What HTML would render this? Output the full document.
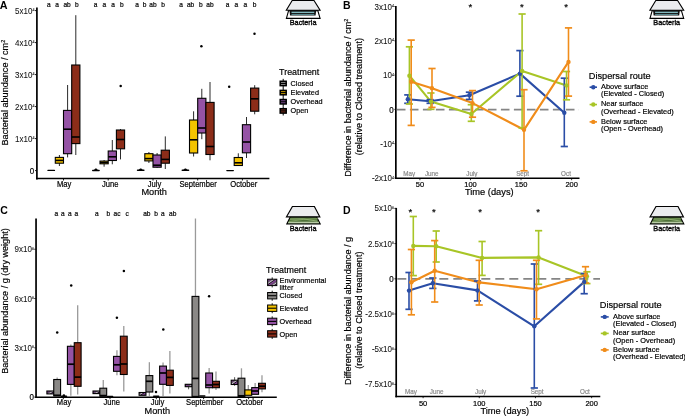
<!DOCTYPE html><html><head><meta charset="utf-8"><style>html,body{margin:0;padding:0;background:#fff;}svg{display:block;will-change:transform;}text{font-family:"Liberation Sans", sans-serif;}</style></head><body>
<svg width="685" height="416" viewBox="0 0 685 416">
<defs><pattern id="hatch" patternUnits="userSpaceOnUse" width="4.4" height="4.4" patternTransform="rotate(-35)"><rect width="4.4" height="4.4" fill="#1d0f22"/><rect width="4.4" height="1.5" fill="#8b4c9c"/><rect y="2.3" width="4.4" height="1.1" fill="#e8e2ea"/></pattern></defs>
<rect width="685" height="416" fill="#fff"/>
<text x="-0.3" y="8.6" font-size="10.8" text-anchor="start" fill="#000" stroke="#000" stroke-width="0" font-weight="bold" >A</text>
<line x1="36.9" y1="7.5" x2="36.9" y2="179.4" stroke="#000" stroke-width="1.7"/>
<line x1="36.05" y1="178.55" x2="269.4" y2="178.55" stroke="#000" stroke-width="1.6"/>
<line x1="35.0" y1="170.60" x2="36.5" y2="170.60" stroke="#000" stroke-width="0.9"/>
<text transform="translate(34.1,173.75) scale(1,1.07)" font-size="8.0" text-anchor="end" fill="#000" stroke="#000" stroke-width="0.18" font-weight="normal">0</text>
<line x1="35.0" y1="138.60" x2="36.5" y2="138.60" stroke="#000" stroke-width="0.9"/>
<text transform="translate(34.5,141.65) scale(1,1.07)" font-size="8.0" text-anchor="end" fill="#111" stroke="#111" stroke-width="0.06">1x10<tspan font-size="3.8" dy="-2.3">4</tspan></text>
<line x1="35.0" y1="106.60" x2="36.5" y2="106.60" stroke="#000" stroke-width="0.9"/>
<text transform="translate(34.5,109.65) scale(1,1.07)" font-size="8.0" text-anchor="end" fill="#111" stroke="#111" stroke-width="0.06">2x10<tspan font-size="3.8" dy="-2.3">4</tspan></text>
<line x1="35.0" y1="74.60" x2="36.5" y2="74.60" stroke="#000" stroke-width="0.9"/>
<text transform="translate(34.5,77.65) scale(1,1.07)" font-size="8.0" text-anchor="end" fill="#111" stroke="#111" stroke-width="0.06">3x10<tspan font-size="3.8" dy="-2.3">4</tspan></text>
<line x1="35.0" y1="42.60" x2="36.5" y2="42.60" stroke="#000" stroke-width="0.9"/>
<text transform="translate(34.5,45.65) scale(1,1.07)" font-size="8.0" text-anchor="end" fill="#111" stroke="#111" stroke-width="0.06">4x10<tspan font-size="3.8" dy="-2.3">4</tspan></text>
<line x1="35.0" y1="10.60" x2="36.5" y2="10.60" stroke="#000" stroke-width="0.9"/>
<text transform="translate(34.5,13.65) scale(1,1.07)" font-size="8.0" text-anchor="end" fill="#111" stroke="#111" stroke-width="0.06">5x10<tspan font-size="3.8" dy="-2.3">4</tspan></text>
<text transform="translate(8.1,92.6) rotate(-90)" font-size="9.1" text-anchor="middle" fill="#000" stroke="#000" stroke-width="0.18">Bacterial abundance / cm<tspan font-size="5.5" dy="-3">2</tspan></text>
<line x1="63.5" y1="178.5" x2="63.5" y2="180.5" stroke="#000" stroke-width="0.9"/>
<text transform="translate(64.1,186.7) scale(1,1.07)" font-size="7.6" text-anchor="middle" fill="#000" stroke="#000" stroke-width="0.18" font-weight="normal">May</text>
<line x1="108.2" y1="178.5" x2="108.2" y2="180.5" stroke="#000" stroke-width="0.9"/>
<text transform="translate(110.2,186.7) scale(1,1.07)" font-size="7.6" text-anchor="middle" fill="#000" stroke="#000" stroke-width="0.18" font-weight="normal">June</text>
<line x1="153.0" y1="178.5" x2="153.0" y2="180.5" stroke="#000" stroke-width="0.9"/>
<text transform="translate(154.5,186.7) scale(1,1.07)" font-size="7.6" text-anchor="middle" fill="#000" stroke="#000" stroke-width="0.18" font-weight="normal">July</text>
<line x1="197.7" y1="178.5" x2="197.7" y2="180.5" stroke="#000" stroke-width="0.9"/>
<text transform="translate(198.1,186.7) scale(1,1.07)" font-size="7.6" text-anchor="middle" fill="#000" stroke="#000" stroke-width="0.18" font-weight="normal">September</text>
<line x1="242.4" y1="178.5" x2="242.4" y2="180.5" stroke="#000" stroke-width="0.9"/>
<text transform="translate(243.75,186.7) scale(1,1.07)" font-size="7.6" text-anchor="middle" fill="#000" stroke="#000" stroke-width="0.18" font-weight="normal">October</text>
<text x="154.15" y="195.1" font-size="9.2" text-anchor="middle" fill="#000" stroke="#000" stroke-width="0.18" font-weight="normal" >Month</text>
<rect x="47.30" y="169.70" width="7.80" height="1.4" rx="0.7" fill="#000"/>
<line x1="59.40" y1="155.0" x2="59.40" y2="157.4" stroke="#2b2b2b" stroke-width="1.0"/>
<line x1="59.40" y1="163.2" x2="59.40" y2="166.0" stroke="#2b2b2b" stroke-width="1.0"/>
<rect x="55.30" y="157.4" width="8.20" height="5.80" fill="#F4C300" stroke="#000" stroke-width="1.1"/>
<line x1="55.30" y1="160.4" x2="63.50" y2="160.4" stroke="#000" stroke-width="1.6"/>
<line x1="67.60" y1="85.0" x2="67.60" y2="110.4" stroke="#2b2b2b" stroke-width="1.0"/>
<line x1="67.60" y1="153.7" x2="67.60" y2="157.4" stroke="#2b2b2b" stroke-width="1.0"/>
<rect x="63.50" y="110.4" width="8.20" height="43.30" fill="#9553A5" stroke="#000" stroke-width="1.1"/>
<line x1="63.50" y1="129.2" x2="71.70" y2="129.2" stroke="#000" stroke-width="1.6"/>
<line x1="75.80" y1="15.2" x2="75.80" y2="65.0" stroke="#2b2b2b" stroke-width="1.0"/>
<line x1="75.80" y1="143.6" x2="75.80" y2="155.0" stroke="#2b2b2b" stroke-width="1.0"/>
<rect x="71.70" y="65.0" width="8.20" height="78.60" fill="#8C2D19" stroke="#000" stroke-width="1.1"/>
<line x1="71.70" y1="137.0" x2="79.90" y2="137.0" stroke="#000" stroke-width="1.6"/>
<rect x="92.00" y="169.80" width="7.80" height="1.4" rx="0.7" fill="#000"/>
<path d="M93.50 170.5 L95.30 168.6 L96.50 168.6 L98.30 170.5 Z" fill="#000"/>
<line x1="104.10" y1="160.0" x2="104.10" y2="161.1" stroke="#2b2b2b" stroke-width="1.0"/>
<line x1="104.10" y1="163.8" x2="104.10" y2="166.7" stroke="#2b2b2b" stroke-width="1.0"/>
<rect x="100.00" y="161.1" width="8.20" height="2.70" fill="#F4C300" stroke="#000" stroke-width="1.1"/>
<line x1="100.00" y1="162.5" x2="108.20" y2="162.5" stroke="#000" stroke-width="1.6"/>
<line x1="112.30" y1="140.0" x2="112.30" y2="151.0" stroke="#2b2b2b" stroke-width="1.0"/>
<line x1="112.30" y1="160.5" x2="112.30" y2="164.3" stroke="#2b2b2b" stroke-width="1.0"/>
<rect x="108.20" y="151.0" width="8.20" height="9.50" fill="#9553A5" stroke="#000" stroke-width="1.1"/>
<line x1="108.20" y1="156.8" x2="116.40" y2="156.8" stroke="#000" stroke-width="1.6"/>
<line x1="120.50" y1="129.0" x2="120.50" y2="130.0" stroke="#2b2b2b" stroke-width="1.0"/>
<line x1="120.50" y1="148.8" x2="120.50" y2="159.4" stroke="#2b2b2b" stroke-width="1.0"/>
<rect x="116.40" y="130.0" width="8.20" height="18.80" fill="#8C2D19" stroke="#000" stroke-width="1.1"/>
<line x1="116.40" y1="139.5" x2="124.60" y2="139.5" stroke="#000" stroke-width="1.6"/>
<circle cx="120.7" cy="86.0" r="1.25" fill="#000"/>
<rect x="136.80" y="169.60" width="7.80" height="1.4" rx="0.7" fill="#000"/>
<path d="M138.30 170.3 L140.10 168.4 L141.30 168.4 L143.10 170.3 Z" fill="#000"/>
<line x1="148.90" y1="152.0" x2="148.90" y2="153.7" stroke="#2b2b2b" stroke-width="1.0"/>
<line x1="148.90" y1="160.9" x2="148.90" y2="163.0" stroke="#2b2b2b" stroke-width="1.0"/>
<rect x="144.80" y="153.7" width="8.20" height="7.20" fill="#F4C300" stroke="#000" stroke-width="1.1"/>
<line x1="144.80" y1="158.6" x2="153.00" y2="158.6" stroke="#000" stroke-width="1.6"/>
<line x1="157.10" y1="153.0" x2="157.10" y2="155.0" stroke="#2b2b2b" stroke-width="1.0"/>
<line x1="157.10" y1="167.2" x2="157.10" y2="168.0" stroke="#2b2b2b" stroke-width="1.0"/>
<rect x="153.00" y="155.0" width="8.20" height="12.20" fill="#9553A5" stroke="#000" stroke-width="1.1"/>
<line x1="153.00" y1="165.2" x2="161.20" y2="165.2" stroke="#000" stroke-width="1.6"/>
<line x1="165.30" y1="136.4" x2="165.30" y2="150.2" stroke="#2b2b2b" stroke-width="1.0"/>
<line x1="165.30" y1="163.2" x2="165.30" y2="169.0" stroke="#2b2b2b" stroke-width="1.0"/>
<rect x="161.20" y="150.2" width="8.20" height="13.00" fill="#8C2D19" stroke="#000" stroke-width="1.1"/>
<line x1="161.20" y1="159.4" x2="169.40" y2="159.4" stroke="#000" stroke-width="1.6"/>
<rect x="181.50" y="169.60" width="7.80" height="1.4" rx="0.7" fill="#000"/>
<path d="M183.00 170.3 L184.80 168.4 L186.00 168.4 L187.80 170.3 Z" fill="#000"/>
<line x1="193.60" y1="111.3" x2="193.60" y2="120.0" stroke="#2b2b2b" stroke-width="1.0"/>
<line x1="193.60" y1="153.0" x2="193.60" y2="156.5" stroke="#2b2b2b" stroke-width="1.0"/>
<rect x="189.50" y="120.0" width="8.20" height="33.00" fill="#F4C300" stroke="#000" stroke-width="1.1"/>
<line x1="189.50" y1="139.8" x2="197.70" y2="139.8" stroke="#000" stroke-width="1.6"/>
<line x1="201.80" y1="88.8" x2="201.80" y2="98.3" stroke="#2b2b2b" stroke-width="1.0"/>
<line x1="201.80" y1="133.0" x2="201.80" y2="139.2" stroke="#2b2b2b" stroke-width="1.0"/>
<rect x="197.70" y="98.3" width="8.20" height="34.70" fill="#9553A5" stroke="#000" stroke-width="1.1"/>
<line x1="197.70" y1="128.0" x2="205.90" y2="128.0" stroke="#000" stroke-width="1.6"/>
<line x1="210.00" y1="82.0" x2="210.00" y2="102.4" stroke="#2b2b2b" stroke-width="1.0"/>
<line x1="210.00" y1="154.5" x2="210.00" y2="160.3" stroke="#2b2b2b" stroke-width="1.0"/>
<rect x="205.90" y="102.4" width="8.20" height="52.10" fill="#8C2D19" stroke="#000" stroke-width="1.1"/>
<line x1="205.90" y1="146.5" x2="214.10" y2="146.5" stroke="#000" stroke-width="1.6"/>
<circle cx="201.4" cy="46.3" r="1.25" fill="#000"/>
<rect x="226.20" y="169.90" width="7.80" height="1.4" rx="0.7" fill="#000"/>
<line x1="238.30" y1="153.3" x2="238.30" y2="157.5" stroke="#2b2b2b" stroke-width="1.0"/>
<line x1="238.30" y1="165.5" x2="238.30" y2="166.0" stroke="#2b2b2b" stroke-width="1.0"/>
<rect x="234.20" y="157.5" width="8.20" height="8.00" fill="#F4C300" stroke="#000" stroke-width="1.1"/>
<line x1="234.20" y1="162.8" x2="242.40" y2="162.8" stroke="#000" stroke-width="1.6"/>
<line x1="246.50" y1="117.0" x2="246.50" y2="124.7" stroke="#2b2b2b" stroke-width="1.0"/>
<line x1="246.50" y1="152.8" x2="246.50" y2="158.0" stroke="#2b2b2b" stroke-width="1.0"/>
<rect x="242.40" y="124.7" width="8.20" height="28.10" fill="#9553A5" stroke="#000" stroke-width="1.1"/>
<line x1="242.40" y1="142.0" x2="250.60" y2="142.0" stroke="#000" stroke-width="1.6"/>
<line x1="254.70" y1="85.2" x2="254.70" y2="88.1" stroke="#2b2b2b" stroke-width="1.0"/>
<line x1="254.70" y1="111.2" x2="254.70" y2="114.3" stroke="#2b2b2b" stroke-width="1.0"/>
<rect x="250.60" y="88.1" width="8.20" height="23.10" fill="#8C2D19" stroke="#000" stroke-width="1.1"/>
<line x1="250.60" y1="98.8" x2="258.80" y2="98.8" stroke="#000" stroke-width="1.6"/>
<circle cx="229.2" cy="86.7" r="1.25" fill="#000"/>
<circle cx="254.5" cy="33.7" r="1.25" fill="#000"/>
<text transform="translate(48.8,6.9) scale(1,1.07)" font-size="6.6" text-anchor="middle" fill="#000" stroke="#000" stroke-width="0.18" font-weight="normal">a</text>
<text transform="translate(57.0,6.9) scale(1,1.07)" font-size="6.6" text-anchor="middle" fill="#000" stroke="#000" stroke-width="0.18" font-weight="normal">a</text>
<text transform="translate(67.1,6.9) scale(1,1.07)" font-size="6.6" text-anchor="middle" fill="#000" stroke="#000" stroke-width="0.18" font-weight="normal">ab</text>
<text transform="translate(76.8,6.9) scale(1,1.07)" font-size="6.6" text-anchor="middle" fill="#000" stroke="#000" stroke-width="0.18" font-weight="normal">b</text>
<text transform="translate(95.7,6.9) scale(1,1.07)" font-size="6.6" text-anchor="middle" fill="#000" stroke="#000" stroke-width="0.18" font-weight="normal">a</text>
<text transform="translate(104.3,6.9) scale(1,1.07)" font-size="6.6" text-anchor="middle" fill="#000" stroke="#000" stroke-width="0.18" font-weight="normal">a</text>
<text transform="translate(113.2,6.9) scale(1,1.07)" font-size="6.6" text-anchor="middle" fill="#000" stroke="#000" stroke-width="0.18" font-weight="normal">a</text>
<text transform="translate(121.8,6.9) scale(1,1.07)" font-size="6.6" text-anchor="middle" fill="#000" stroke="#000" stroke-width="0.18" font-weight="normal">b</text>
<text transform="translate(137.2,6.9) scale(1,1.07)" font-size="6.6" text-anchor="middle" fill="#000" stroke="#000" stroke-width="0.18" font-weight="normal">a</text>
<text transform="translate(144.6,6.9) scale(1,1.07)" font-size="6.6" text-anchor="middle" fill="#000" stroke="#000" stroke-width="0.18" font-weight="normal">b</text>
<text transform="translate(153.0,6.9) scale(1,1.07)" font-size="6.6" text-anchor="middle" fill="#000" stroke="#000" stroke-width="0.18" font-weight="normal">ab</text>
<text transform="translate(163.1,6.9) scale(1,1.07)" font-size="6.6" text-anchor="middle" fill="#000" stroke="#000" stroke-width="0.18" font-weight="normal">b</text>
<text transform="translate(181.2,6.9) scale(1,1.07)" font-size="6.6" text-anchor="middle" fill="#000" stroke="#000" stroke-width="0.18" font-weight="normal">a</text>
<text transform="translate(190.6,6.9) scale(1,1.07)" font-size="6.6" text-anchor="middle" fill="#000" stroke="#000" stroke-width="0.18" font-weight="normal">ab</text>
<text transform="translate(200.8,6.9) scale(1,1.07)" font-size="6.6" text-anchor="middle" fill="#000" stroke="#000" stroke-width="0.18" font-weight="normal">b</text>
<text transform="translate(210.0,6.9) scale(1,1.07)" font-size="6.6" text-anchor="middle" fill="#000" stroke="#000" stroke-width="0.18" font-weight="normal">ab</text>
<text transform="translate(227.6,6.9) scale(1,1.07)" font-size="6.6" text-anchor="middle" fill="#000" stroke="#000" stroke-width="0.18" font-weight="normal">a</text>
<text transform="translate(236.3,6.9) scale(1,1.07)" font-size="6.6" text-anchor="middle" fill="#000" stroke="#000" stroke-width="0.18" font-weight="normal">a</text>
<text transform="translate(245.4,6.9) scale(1,1.07)" font-size="6.6" text-anchor="middle" fill="#000" stroke="#000" stroke-width="0.18" font-weight="normal">a</text>
<text transform="translate(254.6,6.9) scale(1,1.07)" font-size="6.6" text-anchor="middle" fill="#000" stroke="#000" stroke-width="0.18" font-weight="normal">b</text>
<text x="0" y="0" font-size="8.9" text-anchor="start" fill="#000" stroke="#000" stroke-width="0.18" font-weight="normal" transform="translate(279.1,75.4) scale(1,1.1)">Treatment</text>
<line x1="283.2" y1="78.85" x2="283.2" y2="88.05" stroke="#000" stroke-width="1.0"/>
<rect x="280.2" y="81.25" width="6.0" height="4.4" fill="#8a8a8a" stroke="#000" stroke-width="1.5"/>
<line x1="280.2" y1="83.45" x2="286.2" y2="83.45" stroke="#000" stroke-width="1.1"/>
<text transform="translate(290.6,85.95) scale(1,1.07)" font-size="7.3" text-anchor="start" fill="#000" stroke="#000" stroke-width="0.18" font-weight="normal">Closed</text>
<line x1="283.2" y1="88.00" x2="283.2" y2="97.20" stroke="#000" stroke-width="1.0"/>
<rect x="280.2" y="90.40" width="6.0" height="4.4" fill="#c9a000" stroke="#000" stroke-width="1.5"/>
<line x1="280.2" y1="92.60" x2="286.2" y2="92.60" stroke="#000" stroke-width="1.1"/>
<text transform="translate(290.6,95.10000000000001) scale(1,1.07)" font-size="7.3" text-anchor="start" fill="#000" stroke="#000" stroke-width="0.18" font-weight="normal">Elevated</text>
<line x1="283.2" y1="97.15" x2="283.2" y2="106.35" stroke="#000" stroke-width="1.0"/>
<rect x="280.2" y="99.55" width="6.0" height="4.4" fill="#7d4a90" stroke="#000" stroke-width="1.5"/>
<line x1="280.2" y1="101.75" x2="286.2" y2="101.75" stroke="#000" stroke-width="1.1"/>
<text transform="translate(290.6,104.25) scale(1,1.07)" font-size="7.3" text-anchor="start" fill="#000" stroke="#000" stroke-width="0.18" font-weight="normal">Overhead</text>
<line x1="283.2" y1="106.30" x2="283.2" y2="115.50" stroke="#000" stroke-width="1.0"/>
<rect x="280.2" y="108.70" width="6.0" height="4.4" fill="#7c2e1c" stroke="#000" stroke-width="1.5"/>
<line x1="280.2" y1="110.90" x2="286.2" y2="110.90" stroke="#000" stroke-width="1.1"/>
<text transform="translate(290.6,113.4) scale(1,1.07)" font-size="7.3" text-anchor="start" fill="#000" stroke="#000" stroke-width="0.18" font-weight="normal">Open</text>
<polygon points="288.60,10.60 317.80,10.60 320.10,18.40 286.40,18.40" fill="#fff" stroke="#000" stroke-width="1.1"/>
<polygon points="289.50,10.60 316.20,10.60 315.60,15.60 290.00,15.60" fill="#111"/>
<line x1="291.5" y1="12.3" x2="314.3" y2="12.3" stroke="#92cdd4" stroke-width="1.2"/>
<line x1="291.5" y1="14.4" x2="314.3" y2="14.4" stroke="#6aa5ad" stroke-width="0.9"/>
<polygon points="292.20,0.50 314.00,0.50 320.10,10.30 286.30,10.30" fill="#ebecee" stroke="#000" stroke-width="1.1"/>
<text transform="translate(303.1,24.7) scale(1,1.07)" font-size="7.3" text-anchor="middle" fill="#000" stroke="#000" stroke-width="0.32" font-weight="normal">Bacteria</text>
<text x="342.9" y="8.6" font-size="10.5" text-anchor="start" fill="#000" stroke="#000" stroke-width="0" font-weight="bold" >B</text>
<line x1="395.85" y1="5.9" x2="395.85" y2="178.9" stroke="#000" stroke-width="1.7"/>
<line x1="395.0" y1="178.25" x2="579.5" y2="178.25" stroke="#000" stroke-width="1.6"/>
<line x1="394.4" y1="6.50" x2="396" y2="6.50" stroke="#000" stroke-width="0.8"/>
<text transform="translate(394.0,9.55) scale(1,1.07)" font-size="8.0" text-anchor="end" fill="#111" stroke="#111" stroke-width="0.06">3x10<tspan font-size="3.8" dy="-2.3">4</tspan></text>
<line x1="394.4" y1="40.80" x2="396" y2="40.80" stroke="#000" stroke-width="0.8"/>
<text transform="translate(394.0,43.85) scale(1,1.07)" font-size="8.0" text-anchor="end" fill="#111" stroke="#111" stroke-width="0.06">2x10<tspan font-size="3.8" dy="-2.3">4</tspan></text>
<line x1="394.4" y1="75.10" x2="396" y2="75.10" stroke="#000" stroke-width="0.8"/>
<text transform="translate(394.0,78.15) scale(1,1.07)" font-size="8.0" text-anchor="end" fill="#111" stroke="#111" stroke-width="0.06">10<tspan font-size="3.8" dy="-2.3">4</tspan></text>
<line x1="394.4" y1="109.40" x2="396" y2="109.40" stroke="#000" stroke-width="0.8"/>
<text transform="translate(393.6,112.55000000000001) scale(1,1.07)" font-size="8.0" text-anchor="end" fill="#000" stroke="#000" stroke-width="0.18" font-weight="normal">0</text>
<line x1="394.4" y1="143.70" x2="396" y2="143.70" stroke="#000" stroke-width="0.8"/>
<text transform="translate(394.0,146.75) scale(1,1.07)" font-size="8.0" text-anchor="end" fill="#111" stroke="#111" stroke-width="0.06">-10<tspan font-size="3.8" dy="-2.3">4</tspan></text>
<line x1="394.4" y1="178.00" x2="396" y2="178.00" stroke="#000" stroke-width="0.8"/>
<text transform="translate(394.0,181.05) scale(1,1.07)" font-size="8.0" text-anchor="end" fill="#111" stroke="#111" stroke-width="0.06">-2x10<tspan font-size="3.8" dy="-2.3">4</tspan></text>
<text transform="translate(351.0,97.7) rotate(-90)" font-size="9.1" text-anchor="middle" fill="#000" stroke="#000" stroke-width="0.18">Difference in bacterial abundance / cm<tspan font-size="5.5" dy="-3">2</tspan></text>
<text transform="translate(361.7,96.7) rotate(-90)" font-size="9.1" text-anchor="middle" fill="#000" stroke="#000" stroke-width="0.18">(relative to Closed treatment)</text>
<line x1="396.9" y1="109.6" x2="579" y2="109.6" stroke="#858585" stroke-width="1.7" stroke-dasharray="8.6 4.4"/>
<line x1="419.90" y1="178.3" x2="419.90" y2="180.2" stroke="#000" stroke-width="0.8"/>
<text transform="translate(419.9,186.7) scale(1,1.07)" font-size="7.5" text-anchor="middle" fill="#000" stroke="#000" stroke-width="0.18" font-weight="normal">50</text>
<line x1="470.47" y1="178.3" x2="470.47" y2="180.2" stroke="#000" stroke-width="0.8"/>
<text transform="translate(470.47499999999997,186.7) scale(1,1.07)" font-size="7.5" text-anchor="middle" fill="#000" stroke="#000" stroke-width="0.18" font-weight="normal">100</text>
<line x1="521.05" y1="178.3" x2="521.05" y2="180.2" stroke="#000" stroke-width="0.8"/>
<text transform="translate(521.05,186.7) scale(1,1.07)" font-size="7.5" text-anchor="middle" fill="#000" stroke="#000" stroke-width="0.18" font-weight="normal">150</text>
<line x1="571.62" y1="178.3" x2="571.62" y2="180.2" stroke="#000" stroke-width="0.8"/>
<text transform="translate(571.625,186.7) scale(1,1.07)" font-size="7.5" text-anchor="middle" fill="#000" stroke="#000" stroke-width="0.18" font-weight="normal">200</text>
<text transform="translate(409.3,176.2) scale(1,1.07)" font-size="6.3" text-anchor="middle" fill="#8a8a8a" stroke="#8a8a8a" stroke-width="0.18" font-weight="normal">May</text>
<text transform="translate(431.7,176.2) scale(1,1.07)" font-size="6.3" text-anchor="middle" fill="#8a8a8a" stroke="#8a8a8a" stroke-width="0.18" font-weight="normal">June</text>
<text transform="translate(471.9,176.2) scale(1,1.07)" font-size="6.3" text-anchor="middle" fill="#8a8a8a" stroke="#8a8a8a" stroke-width="0.18" font-weight="normal">July</text>
<text transform="translate(522.6,176.2) scale(1,1.07)" font-size="6.3" text-anchor="middle" fill="#8a8a8a" stroke="#8a8a8a" stroke-width="0.18" font-weight="normal">Sept</text>
<text transform="translate(566.0,176.2) scale(1,1.07)" font-size="6.3" text-anchor="middle" fill="#8a8a8a" stroke="#8a8a8a" stroke-width="0.18" font-weight="normal">Oct</text>
<text x="489.3" y="195.3" font-size="9.3" text-anchor="middle" fill="#000" stroke="#000" stroke-width="0.18" font-weight="normal" >Time (days)</text>
<text x="470.3" y="9.8" font-size="9.6" text-anchor="middle" fill="#000" stroke="#000" stroke-width="0.18" font-weight="normal" >*</text>
<text x="521.9" y="9.8" font-size="9.6" text-anchor="middle" fill="#000" stroke="#000" stroke-width="0.18" font-weight="normal" >*</text>
<text x="566.0" y="9.8" font-size="9.6" text-anchor="middle" fill="#000" stroke="#000" stroke-width="0.18" font-weight="normal" >*</text>
<path d="M407.8,99.3 L430.1,101.2 L469.4,95.3 L519.9,73.6 L564.3,112.7" fill="none" stroke="#2A4DA6" stroke-width="2.1" stroke-linejoin="round"/>
<path d="M409.4,75.7 L430.9,101.6 L471.3,114.0 L522.1,71.0 L566.5,85.4" fill="none" stroke="#A8C526" stroke-width="2.1" stroke-linejoin="round"/>
<path d="M411.2,81.7 L432.0,88.2 L472.5,103.1 L524.0,129.8 L568.5,61.9" fill="none" stroke="#F08C1A" stroke-width="2.1" stroke-linejoin="round"/>
<line x1="407.8" y1="94.9" x2="407.8" y2="103.3" stroke="#2A4DA6" stroke-width="1.6"/>
<line x1="404.2" y1="94.9" x2="411.40000000000003" y2="94.9" stroke="#2A4DA6" stroke-width="1.7"/>
<line x1="404.2" y1="103.3" x2="411.40000000000003" y2="103.3" stroke="#2A4DA6" stroke-width="1.7"/>
<line x1="430.1" y1="99.7" x2="430.1" y2="103.3" stroke="#2A4DA6" stroke-width="1.6"/>
<line x1="426.5" y1="99.7" x2="433.70000000000005" y2="99.7" stroke="#2A4DA6" stroke-width="1.7"/>
<line x1="426.5" y1="103.3" x2="433.70000000000005" y2="103.3" stroke="#2A4DA6" stroke-width="1.7"/>
<line x1="469.4" y1="92.2" x2="469.4" y2="99.4" stroke="#2A4DA6" stroke-width="1.6"/>
<line x1="465.79999999999995" y1="92.2" x2="473.0" y2="92.2" stroke="#2A4DA6" stroke-width="1.7"/>
<line x1="465.79999999999995" y1="99.4" x2="473.0" y2="99.4" stroke="#2A4DA6" stroke-width="1.7"/>
<line x1="519.9" y1="50.6" x2="519.9" y2="96.2" stroke="#2A4DA6" stroke-width="1.6"/>
<line x1="516.3" y1="50.6" x2="523.5" y2="50.6" stroke="#2A4DA6" stroke-width="1.7"/>
<line x1="516.3" y1="96.2" x2="523.5" y2="96.2" stroke="#2A4DA6" stroke-width="1.7"/>
<line x1="564.3" y1="78.2" x2="564.3" y2="146.5" stroke="#2A4DA6" stroke-width="1.6"/>
<line x1="560.6999999999999" y1="78.2" x2="567.9" y2="78.2" stroke="#2A4DA6" stroke-width="1.7"/>
<line x1="560.6999999999999" y1="146.5" x2="567.9" y2="146.5" stroke="#2A4DA6" stroke-width="1.7"/>
<line x1="409.4" y1="46.8" x2="409.4" y2="104.0" stroke="#A8C526" stroke-width="1.6"/>
<line x1="405.79999999999995" y1="46.8" x2="413.0" y2="46.8" stroke="#A8C526" stroke-width="1.7"/>
<line x1="405.79999999999995" y1="104.0" x2="413.0" y2="104.0" stroke="#A8C526" stroke-width="1.7"/>
<line x1="430.9" y1="93.0" x2="430.9" y2="109.3" stroke="#A8C526" stroke-width="1.6"/>
<line x1="427.29999999999995" y1="93.0" x2="434.5" y2="93.0" stroke="#A8C526" stroke-width="1.7"/>
<line x1="427.29999999999995" y1="109.3" x2="434.5" y2="109.3" stroke="#A8C526" stroke-width="1.7"/>
<line x1="471.3" y1="104.7" x2="471.3" y2="121.3" stroke="#A8C526" stroke-width="1.6"/>
<line x1="467.7" y1="104.7" x2="474.90000000000003" y2="104.7" stroke="#A8C526" stroke-width="1.7"/>
<line x1="467.7" y1="121.3" x2="474.90000000000003" y2="121.3" stroke="#A8C526" stroke-width="1.7"/>
<line x1="522.1" y1="14.0" x2="522.1" y2="128.0" stroke="#A8C526" stroke-width="1.6"/>
<line x1="518.5" y1="14.0" x2="525.7" y2="14.0" stroke="#A8C526" stroke-width="1.7"/>
<line x1="518.5" y1="128.0" x2="525.7" y2="128.0" stroke="#A8C526" stroke-width="1.7"/>
<line x1="566.5" y1="71.5" x2="566.5" y2="99.8" stroke="#A8C526" stroke-width="1.6"/>
<line x1="562.9" y1="71.5" x2="570.1" y2="71.5" stroke="#A8C526" stroke-width="1.7"/>
<line x1="562.9" y1="99.8" x2="570.1" y2="99.8" stroke="#A8C526" stroke-width="1.7"/>
<line x1="411.2" y1="40.1" x2="411.2" y2="125.4" stroke="#F08C1A" stroke-width="1.6"/>
<line x1="407.59999999999997" y1="40.1" x2="414.8" y2="40.1" stroke="#F08C1A" stroke-width="1.7"/>
<line x1="407.59999999999997" y1="125.4" x2="414.8" y2="125.4" stroke="#F08C1A" stroke-width="1.7"/>
<line x1="432.0" y1="68.5" x2="432.0" y2="107.4" stroke="#F08C1A" stroke-width="1.6"/>
<line x1="428.4" y1="68.5" x2="435.6" y2="68.5" stroke="#F08C1A" stroke-width="1.7"/>
<line x1="428.4" y1="107.4" x2="435.6" y2="107.4" stroke="#F08C1A" stroke-width="1.7"/>
<line x1="472.5" y1="90.6" x2="472.5" y2="117.2" stroke="#F08C1A" stroke-width="1.6"/>
<line x1="468.9" y1="90.6" x2="476.1" y2="90.6" stroke="#F08C1A" stroke-width="1.7"/>
<line x1="468.9" y1="117.2" x2="476.1" y2="117.2" stroke="#F08C1A" stroke-width="1.7"/>
<line x1="524.0" y1="89.7" x2="524.0" y2="170.8" stroke="#F08C1A" stroke-width="1.6"/>
<line x1="520.4" y1="89.7" x2="527.6" y2="89.7" stroke="#F08C1A" stroke-width="1.7"/>
<line x1="520.4" y1="170.8" x2="527.6" y2="170.8" stroke="#F08C1A" stroke-width="1.7"/>
<line x1="568.5" y1="27.9" x2="568.5" y2="96.1" stroke="#F08C1A" stroke-width="1.6"/>
<line x1="564.9" y1="27.9" x2="572.1" y2="27.9" stroke="#F08C1A" stroke-width="1.7"/>
<line x1="564.9" y1="96.1" x2="572.1" y2="96.1" stroke="#F08C1A" stroke-width="1.7"/>
<circle cx="407.8" cy="99.3" r="2.2" fill="#2A4DA6"/>
<circle cx="430.1" cy="101.2" r="2.2" fill="#2A4DA6"/>
<circle cx="469.4" cy="95.3" r="2.2" fill="#2A4DA6"/>
<circle cx="519.9" cy="73.6" r="2.2" fill="#2A4DA6"/>
<circle cx="564.3" cy="112.7" r="2.2" fill="#2A4DA6"/>
<circle cx="409.4" cy="75.7" r="2.2" fill="#A8C526"/>
<circle cx="430.9" cy="101.6" r="2.2" fill="#A8C526"/>
<circle cx="471.3" cy="114.0" r="2.2" fill="#A8C526"/>
<circle cx="522.1" cy="71.0" r="2.2" fill="#A8C526"/>
<circle cx="566.5" cy="85.4" r="2.2" fill="#A8C526"/>
<circle cx="411.2" cy="81.7" r="2.2" fill="#F08C1A"/>
<circle cx="432.0" cy="88.2" r="2.2" fill="#F08C1A"/>
<circle cx="472.5" cy="103.1" r="2.2" fill="#F08C1A"/>
<circle cx="524.0" cy="129.8" r="2.2" fill="#F08C1A"/>
<circle cx="568.5" cy="61.9" r="2.2" fill="#F08C1A"/>
<text x="588.8" y="78.9" font-size="9.2" text-anchor="start" fill="#000" stroke="#000" stroke-width="0.18" font-weight="normal" >Dispersal route</text>
<line x1="589.6" y1="87.2" x2="597" y2="87.2" stroke="#2A4DA6" stroke-width="1.6"/>
<circle cx="593.3" cy="87.2" r="2.2" fill="#2A4DA6"/>
<text transform="translate(601.0,88.9) scale(1,1.07)" font-size="7.4" text-anchor="start" fill="#000" stroke="#000" stroke-width="0.18" font-weight="normal">Above surface</text>
<text transform="translate(601.0,96.3) scale(1,1.07)" font-size="7.4" text-anchor="start" fill="#000" stroke="#000" stroke-width="0.18" font-weight="normal">(Elevated - Closed)</text>
<line x1="589.6" y1="104.55000000000001" x2="597" y2="104.55000000000001" stroke="#A8C526" stroke-width="1.6"/>
<circle cx="593.3" cy="104.55000000000001" r="2.2" fill="#A8C526"/>
<text transform="translate(601.0,106.25000000000001) scale(1,1.07)" font-size="7.4" text-anchor="start" fill="#000" stroke="#000" stroke-width="0.18" font-weight="normal">Near surface</text>
<text transform="translate(601.0,113.65) scale(1,1.07)" font-size="7.4" text-anchor="start" fill="#000" stroke="#000" stroke-width="0.18" font-weight="normal">(Overhead - Elevated)</text>
<line x1="589.6" y1="121.9" x2="597" y2="121.9" stroke="#F08C1A" stroke-width="1.6"/>
<circle cx="593.3" cy="121.9" r="2.2" fill="#F08C1A"/>
<text transform="translate(601.0,123.60000000000001) scale(1,1.07)" font-size="7.4" text-anchor="start" fill="#000" stroke="#000" stroke-width="0.18" font-weight="normal">Below surface</text>
<text transform="translate(601.0,131.0) scale(1,1.07)" font-size="7.4" text-anchor="start" fill="#000" stroke="#000" stroke-width="0.18" font-weight="normal">(Open - Overhead)</text>
<polygon points="652.20,10.60 681.40,10.60 683.70,18.40 650.00,18.40" fill="#fff" stroke="#000" stroke-width="1.1"/>
<polygon points="653.10,10.60 679.80,10.60 679.20,15.60 653.60,15.60" fill="#111"/>
<line x1="655.1" y1="12.3" x2="677.9000000000001" y2="12.3" stroke="#92cdd4" stroke-width="1.2"/>
<line x1="655.1" y1="14.4" x2="677.9000000000001" y2="14.4" stroke="#6aa5ad" stroke-width="0.9"/>
<polygon points="655.80,0.50 677.60,0.50 683.70,10.30 649.90,10.30" fill="#ebecee" stroke="#000" stroke-width="1.1"/>
<text transform="translate(666.7,24.7) scale(1,1.07)" font-size="7.3" text-anchor="middle" fill="#000" stroke="#000" stroke-width="0.32" font-weight="normal">Bacteria</text>
<text x="0.2" y="214.4" font-size="10.5" text-anchor="start" fill="#000" stroke="#000" stroke-width="0" font-weight="bold" >C</text>
<line x1="36.05" y1="218.5" x2="36.05" y2="397.9" stroke="#000" stroke-width="1.7"/>
<line x1="35.2" y1="397.2" x2="276.8" y2="397.2" stroke="#000" stroke-width="1.5"/>
<line x1="34.2" y1="397.10" x2="35.8" y2="397.10" stroke="#000" stroke-width="0.8"/>
<text transform="translate(34.0,400.25) scale(1,1.07)" font-size="8.0" text-anchor="end" fill="#000" stroke="#000" stroke-width="0.18" font-weight="normal">0</text>
<line x1="34.2" y1="347.81" x2="35.8" y2="347.81" stroke="#000" stroke-width="0.8"/>
<text transform="translate(34.0,350.86) scale(1,1.07)" font-size="8.0" text-anchor="end" fill="#111" stroke="#111" stroke-width="0.06">3x10<tspan font-size="3.8" dy="-2.3">6</tspan></text>
<line x1="34.2" y1="298.52" x2="35.8" y2="298.52" stroke="#000" stroke-width="0.8"/>
<text transform="translate(34.0,301.57) scale(1,1.07)" font-size="8.0" text-anchor="end" fill="#111" stroke="#111" stroke-width="0.06">6x10<tspan font-size="3.8" dy="-2.3">6</tspan></text>
<line x1="34.2" y1="249.23" x2="35.8" y2="249.23" stroke="#000" stroke-width="0.8"/>
<text transform="translate(34.0,252.28) scale(1,1.07)" font-size="8.0" text-anchor="end" fill="#111" stroke="#111" stroke-width="0.06">9x10<tspan font-size="3.8" dy="-2.3">6</tspan></text>
<text transform="translate(8.1,301.0) rotate(-90)" font-size="9.1" text-anchor="middle" fill="#000" stroke="#000" stroke-width="0.18">Bacterial abundance / g (dry weight)</text>
<line x1="63.3" y1="397.2" x2="63.3" y2="399.2" stroke="#000" stroke-width="0.9"/>
<text transform="translate(64.0,405.0) scale(1,1.07)" font-size="7.6" text-anchor="middle" fill="#000" stroke="#000" stroke-width="0.18" font-weight="normal">May</text>
<line x1="110.0" y1="397.2" x2="110.0" y2="399.2" stroke="#000" stroke-width="0.9"/>
<text transform="translate(111.75,405.0) scale(1,1.07)" font-size="7.6" text-anchor="middle" fill="#000" stroke="#000" stroke-width="0.18" font-weight="normal">June</text>
<line x1="156.3" y1="397.2" x2="156.3" y2="399.2" stroke="#000" stroke-width="0.9"/>
<text transform="translate(157.5,405.0) scale(1,1.07)" font-size="7.6" text-anchor="middle" fill="#000" stroke="#000" stroke-width="0.18" font-weight="normal">July</text>
<line x1="203.6" y1="397.2" x2="203.6" y2="399.2" stroke="#000" stroke-width="0.9"/>
<text transform="translate(204.65,405.0) scale(1,1.07)" font-size="7.6" text-anchor="middle" fill="#000" stroke="#000" stroke-width="0.18" font-weight="normal">September</text>
<line x1="248.6" y1="397.2" x2="248.6" y2="399.2" stroke="#000" stroke-width="0.9"/>
<text transform="translate(249.65,405.0) scale(1,1.07)" font-size="7.6" text-anchor="middle" fill="#000" stroke="#000" stroke-width="0.18" font-weight="normal">October</text>
<text x="157.35" y="413.5" font-size="9.2" text-anchor="middle" fill="#000" stroke="#000" stroke-width="0.18" font-weight="normal" >Month</text>
<rect x="46.90" y="391.0" width="6.84" height="2.90" fill="url(#hatch)" stroke="#000" stroke-width="1.1"/>
<line x1="57.16" y1="377.4" x2="57.16" y2="379.5" stroke="#9a9a9a" stroke-width="1.3"/>
<line x1="57.16" y1="395.9" x2="57.16" y2="396.2" stroke="#9a9a9a" stroke-width="1.3"/>
<rect x="53.74" y="379.5" width="6.84" height="16.40" fill="#8A8886" stroke="#000" stroke-width="1.1"/>
<line x1="53.74" y1="395.3" x2="60.58" y2="395.3" stroke="#000" stroke-width="1.7"/>
<rect x="60.78" y="395.60" width="6.44" height="1.4" rx="0.7" fill="#000"/>
<circle cx="63.9" cy="395.6" r="1.3" fill="#000"/>
<line x1="70.84" y1="344.4" x2="70.84" y2="346.3" stroke="#9a9a9a" stroke-width="1.3"/>
<line x1="70.84" y1="384.4" x2="70.84" y2="395.7" stroke="#9a9a9a" stroke-width="1.3"/>
<rect x="67.42" y="346.3" width="6.84" height="38.10" fill="#9553A5" stroke="#000" stroke-width="1.1"/>
<line x1="67.42" y1="364.2" x2="74.26" y2="364.2" stroke="#000" stroke-width="1.7"/>
<line x1="77.68" y1="305.2" x2="77.68" y2="342.7" stroke="#9a9a9a" stroke-width="1.3"/>
<line x1="77.68" y1="386.3" x2="77.68" y2="394.5" stroke="#9a9a9a" stroke-width="1.3"/>
<rect x="74.26" y="342.7" width="6.84" height="43.60" fill="#8C2D19" stroke="#000" stroke-width="1.1"/>
<line x1="74.26" y1="377.1" x2="81.10" y2="377.1" stroke="#000" stroke-width="1.7"/>
<circle cx="71.2" cy="285.4" r="1.25" fill="#000"/>
<circle cx="57.2" cy="332.5" r="1.25" fill="#000"/>
<rect x="93.00" y="391.0" width="6.84" height="2.60" fill="url(#hatch)" stroke="#000" stroke-width="1.1"/>
<line x1="103.26" y1="380.0" x2="103.26" y2="388.2" stroke="#9a9a9a" stroke-width="1.3"/>
<rect x="99.84" y="388.2" width="6.84" height="8.00" fill="#8A8886" stroke="#000" stroke-width="1.1"/>
<line x1="99.84" y1="395.6" x2="106.68" y2="395.6" stroke="#000" stroke-width="1.7"/>
<rect x="106.88" y="395.80" width="6.44" height="1.4" rx="0.7" fill="#000"/>
<line x1="116.94" y1="350.3" x2="116.94" y2="356.4" stroke="#9a9a9a" stroke-width="1.3"/>
<line x1="116.94" y1="371.3" x2="116.94" y2="375.2" stroke="#9a9a9a" stroke-width="1.3"/>
<rect x="113.52" y="356.4" width="6.84" height="14.90" fill="#9553A5" stroke="#000" stroke-width="1.1"/>
<line x1="113.52" y1="364.8" x2="120.36" y2="364.8" stroke="#000" stroke-width="1.7"/>
<line x1="123.78" y1="326.0" x2="123.78" y2="336.2" stroke="#9a9a9a" stroke-width="1.3"/>
<line x1="123.78" y1="374.5" x2="123.78" y2="391.4" stroke="#9a9a9a" stroke-width="1.3"/>
<rect x="120.36" y="336.2" width="6.84" height="38.30" fill="#8C2D19" stroke="#000" stroke-width="1.1"/>
<line x1="120.36" y1="364.0" x2="127.20" y2="364.0" stroke="#000" stroke-width="1.7"/>
<circle cx="123.9" cy="270.9" r="1.25" fill="#000"/>
<circle cx="116.9" cy="317.7" r="1.25" fill="#000"/>
<rect x="139.10" y="392.5" width="6.84" height="2.80" fill="url(#hatch)" stroke="#000" stroke-width="1.1"/>
<line x1="149.36" y1="362.2" x2="149.36" y2="375.6" stroke="#9a9a9a" stroke-width="1.3"/>
<line x1="149.36" y1="392.0" x2="149.36" y2="396.0" stroke="#9a9a9a" stroke-width="1.3"/>
<rect x="145.94" y="375.6" width="6.84" height="16.40" fill="#8A8886" stroke="#000" stroke-width="1.1"/>
<line x1="145.94" y1="381.3" x2="152.78" y2="381.3" stroke="#000" stroke-width="1.7"/>
<rect x="152.98" y="395.60" width="6.44" height="1.4" rx="0.7" fill="#000"/>
<circle cx="156.0" cy="392.0" r="1.25" fill="#000"/>
<line x1="163.04" y1="362.6" x2="163.04" y2="366.1" stroke="#9a9a9a" stroke-width="1.3"/>
<line x1="163.04" y1="384.3" x2="163.04" y2="396.0" stroke="#9a9a9a" stroke-width="1.3"/>
<rect x="159.62" y="366.1" width="6.84" height="18.20" fill="#9553A5" stroke="#000" stroke-width="1.1"/>
<line x1="159.62" y1="373.0" x2="166.46" y2="373.0" stroke="#000" stroke-width="1.7"/>
<line x1="169.88" y1="351.0" x2="169.88" y2="370.2" stroke="#9a9a9a" stroke-width="1.3"/>
<line x1="169.88" y1="385.4" x2="169.88" y2="393.6" stroke="#9a9a9a" stroke-width="1.3"/>
<rect x="166.46" y="370.2" width="6.84" height="15.20" fill="#8C2D19" stroke="#000" stroke-width="1.1"/>
<line x1="166.46" y1="377.4" x2="173.30" y2="377.4" stroke="#000" stroke-width="1.7"/>
<circle cx="163.3" cy="329.5" r="1.25" fill="#000"/>
<line x1="188.62" y1="386.7" x2="188.62" y2="389.3" stroke="#555" stroke-width="1.0"/>
<rect x="185.20" y="384.3" width="6.84" height="2.40" fill="url(#hatch)" stroke="#000" stroke-width="1.1"/>
<line x1="195.46" y1="218.5" x2="195.46" y2="296.4" stroke="#9a9a9a" stroke-width="1.3"/>
<rect x="192.04" y="296.4" width="6.84" height="100.00" fill="#8A8886" stroke="#000" stroke-width="1.1"/>
<line x1="192.04" y1="378.4" x2="198.88" y2="378.4" stroke="#000" stroke-width="1.7"/>
<rect x="199.08" y="395.30" width="6.44" height="1.4" rx="0.7" fill="#000"/>
<line x1="209.14" y1="368.0" x2="209.14" y2="373.0" stroke="#9a9a9a" stroke-width="1.3"/>
<line x1="209.14" y1="387.7" x2="209.14" y2="393.6" stroke="#9a9a9a" stroke-width="1.3"/>
<rect x="205.72" y="373.0" width="6.84" height="14.70" fill="#9553A5" stroke="#000" stroke-width="1.1"/>
<line x1="205.72" y1="385.0" x2="212.56" y2="385.0" stroke="#000" stroke-width="1.7"/>
<line x1="215.98" y1="371.5" x2="215.98" y2="381.3" stroke="#9a9a9a" stroke-width="1.3"/>
<line x1="215.98" y1="387.7" x2="215.98" y2="390.0" stroke="#9a9a9a" stroke-width="1.3"/>
<rect x="212.56" y="381.3" width="6.84" height="6.40" fill="#8C2D19" stroke="#000" stroke-width="1.1"/>
<line x1="212.56" y1="384.5" x2="219.40" y2="384.5" stroke="#000" stroke-width="1.7"/>
<circle cx="209.1" cy="296.2" r="1.25" fill="#000"/>
<line x1="234.62" y1="377.2" x2="234.62" y2="380.2" stroke="#555" stroke-width="1.0"/>
<line x1="234.62" y1="384.5" x2="234.62" y2="385.8" stroke="#555" stroke-width="1.0"/>
<rect x="231.20" y="380.2" width="6.84" height="4.30" fill="url(#hatch)" stroke="#000" stroke-width="1.1"/>
<line x1="241.46" y1="368.3" x2="241.46" y2="378.2" stroke="#9a9a9a" stroke-width="1.3"/>
<rect x="238.04" y="378.2" width="6.84" height="18.40" fill="#8A8886" stroke="#000" stroke-width="1.1"/>
<line x1="238.04" y1="395.8" x2="244.88" y2="395.8" stroke="#000" stroke-width="1.7"/>
<line x1="248.30" y1="384.9" x2="248.30" y2="389.9" stroke="#9a9a9a" stroke-width="1.3"/>
<rect x="244.88" y="389.9" width="6.84" height="5.40" fill="#F4C300" stroke="#000" stroke-width="1.1"/>
<line x1="255.14" y1="382.9" x2="255.14" y2="387.6" stroke="#9a9a9a" stroke-width="1.3"/>
<rect x="251.72" y="387.6" width="6.84" height="6.70" fill="#9553A5" stroke="#000" stroke-width="1.1"/>
<line x1="251.72" y1="391.0" x2="258.56" y2="391.0" stroke="#000" stroke-width="1.7"/>
<line x1="261.98" y1="375.2" x2="261.98" y2="383.3" stroke="#9a9a9a" stroke-width="1.3"/>
<line x1="261.98" y1="388.9" x2="261.98" y2="392.3" stroke="#9a9a9a" stroke-width="1.3"/>
<rect x="258.56" y="383.3" width="6.84" height="5.60" fill="#8C2D19" stroke="#000" stroke-width="1.1"/>
<line x1="258.56" y1="386.2" x2="265.40" y2="386.2" stroke="#000" stroke-width="1.7"/>
<text transform="translate(56.3,216.4) scale(1,1.07)" font-size="6.6" text-anchor="middle" fill="#000" stroke="#000" stroke-width="0.18" font-weight="normal">a</text>
<text transform="translate(62.8,216.4) scale(1,1.07)" font-size="6.6" text-anchor="middle" fill="#000" stroke="#000" stroke-width="0.18" font-weight="normal">a</text>
<text transform="translate(69.8,216.4) scale(1,1.07)" font-size="6.6" text-anchor="middle" fill="#000" stroke="#000" stroke-width="0.18" font-weight="normal">a</text>
<text transform="translate(76.3,216.4) scale(1,1.07)" font-size="6.6" text-anchor="middle" fill="#000" stroke="#000" stroke-width="0.18" font-weight="normal">a</text>
<text transform="translate(96.9,216.4) scale(1,1.07)" font-size="6.6" text-anchor="middle" fill="#000" stroke="#000" stroke-width="0.18" font-weight="normal">a</text>
<text transform="translate(108.3,216.4) scale(1,1.07)" font-size="6.6" text-anchor="middle" fill="#000" stroke="#000" stroke-width="0.18" font-weight="normal">b</text>
<text transform="translate(117.1,216.4) scale(1,1.07)" font-size="6.6" text-anchor="middle" fill="#000" stroke="#000" stroke-width="0.18" font-weight="normal">ac</text>
<text transform="translate(127.2,216.4) scale(1,1.07)" font-size="6.6" text-anchor="middle" fill="#000" stroke="#000" stroke-width="0.18" font-weight="normal">c</text>
<text transform="translate(146.8,216.4) scale(1,1.07)" font-size="6.6" text-anchor="middle" fill="#000" stroke="#000" stroke-width="0.18" font-weight="normal">ab</text>
<text transform="translate(156.0,216.4) scale(1,1.07)" font-size="6.6" text-anchor="middle" fill="#000" stroke="#000" stroke-width="0.18" font-weight="normal">b</text>
<text transform="translate(162.8,216.4) scale(1,1.07)" font-size="6.6" text-anchor="middle" fill="#000" stroke="#000" stroke-width="0.18" font-weight="normal">a</text>
<text transform="translate(172.7,216.4) scale(1,1.07)" font-size="6.6" text-anchor="middle" fill="#000" stroke="#000" stroke-width="0.18" font-weight="normal">ab</text>
<text x="0" y="0" font-size="8.9" text-anchor="start" fill="#000" stroke="#000" stroke-width="0.18" font-weight="normal" transform="translate(266.1,273.4) scale(1,1.1)">Treatment</text>
<line x1="272.2" y1="277.40" x2="272.2" y2="287.40" stroke="#000" stroke-width="0.9"/>
<rect x="267.6" y="279.20" width="9.2" height="6.4" fill="url(#hatch)" stroke="#000" stroke-width="1.0"/>
<line x1="272.2" y1="290.70" x2="272.2" y2="300.70" stroke="#000" stroke-width="0.9"/>
<rect x="267.6" y="292.50" width="9.2" height="6.4" fill="#8A8886" stroke="#000" stroke-width="1.0"/>
<line x1="268" y1="295.70" x2="276.4" y2="295.70" stroke="#000" stroke-width="1.1"/>
<line x1="272.2" y1="303.20" x2="272.2" y2="313.20" stroke="#000" stroke-width="0.9"/>
<rect x="267.6" y="305.00" width="9.2" height="6.4" fill="#F4C300" stroke="#000" stroke-width="1.0"/>
<line x1="268" y1="308.20" x2="276.4" y2="308.20" stroke="#000" stroke-width="1.1"/>
<line x1="272.2" y1="316.40" x2="272.2" y2="326.40" stroke="#000" stroke-width="0.9"/>
<rect x="267.6" y="318.20" width="9.2" height="6.4" fill="#9553A5" stroke="#000" stroke-width="1.0"/>
<line x1="268" y1="321.40" x2="276.4" y2="321.40" stroke="#000" stroke-width="1.1"/>
<line x1="272.2" y1="328.90" x2="272.2" y2="338.90" stroke="#000" stroke-width="0.9"/>
<rect x="267.6" y="330.70" width="9.2" height="6.4" fill="#8C2D19" stroke="#000" stroke-width="1.0"/>
<line x1="268" y1="333.90" x2="276.4" y2="333.90" stroke="#000" stroke-width="1.1"/>
<text transform="translate(279.6,282.8) scale(1,1.07)" font-size="7.3" text-anchor="start" fill="#000" stroke="#000" stroke-width="0.18" font-weight="normal">Environmental</text>
<text transform="translate(279.6,289.6) scale(1,1.07)" font-size="7.3" text-anchor="start" fill="#000" stroke="#000" stroke-width="0.18" font-weight="normal">litter</text>
<text transform="translate(279.6,298.3) scale(1,1.07)" font-size="7.3" text-anchor="start" fill="#000" stroke="#000" stroke-width="0.18" font-weight="normal">Closed</text>
<text transform="translate(279.6,310.8) scale(1,1.07)" font-size="7.3" text-anchor="start" fill="#000" stroke="#000" stroke-width="0.18" font-weight="normal">Elevated</text>
<text transform="translate(279.6,324.0) scale(1,1.07)" font-size="7.3" text-anchor="start" fill="#000" stroke="#000" stroke-width="0.18" font-weight="normal">Overhead</text>
<text transform="translate(279.6,336.5) scale(1,1.07)" font-size="7.3" text-anchor="start" fill="#000" stroke="#000" stroke-width="0.18" font-weight="normal">Open</text>
<polygon points="290.30,216.80 316.60,216.80 320.20,223.90 286.80,223.90" fill="#4f7238" stroke="#000" stroke-width="1.1"/>
<polygon points="288.60,221.80 318.60,221.80 319.30,223.30 287.80,223.30" fill="#b9cba6"/>
<path d="M290 219.1 Q303 217.7 317 221.1" stroke="#98b87a" stroke-width="0.9" fill="none"/>
<path d="M289 221.5 Q304 218.5 318 218.7" stroke="#86a866" stroke-width="0.8" fill="none"/>
<polygon points="292.40,206.50 314.40,206.50 319.80,216.80 286.50,216.80" fill="#ebecee" stroke="#000" stroke-width="1.2"/>
<text transform="translate(303.1,231.2) scale(1,1.07)" font-size="7.3" text-anchor="middle" fill="#000" stroke="#000" stroke-width="0.32" font-weight="normal">Bacteria</text>
<text x="342.9" y="214.4" font-size="10.5" text-anchor="start" fill="#000" stroke="#000" stroke-width="0" font-weight="bold" >D</text>
<line x1="396.2" y1="207.9" x2="396.2" y2="397.3" stroke="#000" stroke-width="1.7"/>
<line x1="395.4" y1="396.45" x2="600.3" y2="396.45" stroke="#000" stroke-width="1.6"/>
<line x1="394.4" y1="208.40" x2="396" y2="208.40" stroke="#000" stroke-width="0.8"/>
<text transform="translate(394.0,211.45) scale(1,1.07)" font-size="8.0" text-anchor="end" fill="#111" stroke="#111" stroke-width="0.06">5x10<tspan font-size="3.8" dy="-2.3">6</tspan></text>
<line x1="394.4" y1="243.60" x2="396" y2="243.60" stroke="#000" stroke-width="0.8"/>
<text transform="translate(394.0,246.65) scale(1,1.07)" font-size="8.0" text-anchor="end" fill="#111" stroke="#111" stroke-width="0.06">2.5x10<tspan font-size="3.8" dy="-2.3">6</tspan></text>
<line x1="394.4" y1="278.80" x2="396" y2="278.80" stroke="#000" stroke-width="0.8"/>
<text transform="translate(393.6,281.95) scale(1,1.07)" font-size="8.0" text-anchor="end" fill="#000" stroke="#000" stroke-width="0.18" font-weight="normal">0</text>
<line x1="394.4" y1="314.00" x2="396" y2="314.00" stroke="#000" stroke-width="0.8"/>
<text transform="translate(394.0,317.05) scale(1,1.07)" font-size="8.0" text-anchor="end" fill="#111" stroke="#111" stroke-width="0.06">-2.5x10<tspan font-size="3.8" dy="-2.3">6</tspan></text>
<line x1="394.4" y1="349.20" x2="396" y2="349.20" stroke="#000" stroke-width="0.8"/>
<text transform="translate(394.0,352.25) scale(1,1.07)" font-size="8.0" text-anchor="end" fill="#111" stroke="#111" stroke-width="0.06">-5x10<tspan font-size="3.8" dy="-2.3">6</tspan></text>
<line x1="394.4" y1="384.40" x2="396" y2="384.40" stroke="#000" stroke-width="0.8"/>
<text transform="translate(394.0,387.45) scale(1,1.07)" font-size="8.0" text-anchor="end" fill="#111" stroke="#111" stroke-width="0.06">-7.5x10<tspan font-size="3.8" dy="-2.3">6</tspan></text>
<text transform="translate(351.0,310.9) rotate(-90)" font-size="9.1" text-anchor="middle" fill="#000" stroke="#000" stroke-width="0.18">Difference in bacterial abundance / g</text>
<text transform="translate(361.7,310.2) rotate(-90)" font-size="9.1" text-anchor="middle" fill="#000" stroke="#000" stroke-width="0.18">(relative to Closed treatment)</text>
<line x1="397.3" y1="278.8" x2="600" y2="278.8" stroke="#858585" stroke-width="1.7" stroke-dasharray="9.0 5.0"/>
<line x1="423.10" y1="396.3" x2="423.10" y2="398.2" stroke="#000" stroke-width="0.8"/>
<text transform="translate(423.1,405.7) scale(1,1.07)" font-size="7.5" text-anchor="middle" fill="#000" stroke="#000" stroke-width="0.18" font-weight="normal">50</text>
<line x1="479.28" y1="396.3" x2="479.28" y2="398.2" stroke="#000" stroke-width="0.8"/>
<text transform="translate(479.28000000000003,405.7) scale(1,1.07)" font-size="7.5" text-anchor="middle" fill="#000" stroke="#000" stroke-width="0.18" font-weight="normal">100</text>
<line x1="535.46" y1="396.3" x2="535.46" y2="398.2" stroke="#000" stroke-width="0.8"/>
<text transform="translate(535.46,405.7) scale(1,1.07)" font-size="7.5" text-anchor="middle" fill="#000" stroke="#000" stroke-width="0.18" font-weight="normal">150</text>
<line x1="591.64" y1="396.3" x2="591.64" y2="398.2" stroke="#000" stroke-width="0.8"/>
<text transform="translate(591.64,405.7) scale(1,1.07)" font-size="7.5" text-anchor="middle" fill="#000" stroke="#000" stroke-width="0.18" font-weight="normal">200</text>
<text transform="translate(410.9,394.2) scale(1,1.07)" font-size="6.3" text-anchor="middle" fill="#8a8a8a" stroke="#8a8a8a" stroke-width="0.18" font-weight="normal">May</text>
<text transform="translate(436.6,394.2) scale(1,1.07)" font-size="6.3" text-anchor="middle" fill="#8a8a8a" stroke="#8a8a8a" stroke-width="0.18" font-weight="normal">June</text>
<text transform="translate(480.6,394.2) scale(1,1.07)" font-size="6.3" text-anchor="middle" fill="#8a8a8a" stroke="#8a8a8a" stroke-width="0.18" font-weight="normal">July</text>
<text transform="translate(537.1,394.2) scale(1,1.07)" font-size="6.3" text-anchor="middle" fill="#8a8a8a" stroke="#8a8a8a" stroke-width="0.18" font-weight="normal">Sept</text>
<text transform="translate(584.9,394.2) scale(1,1.07)" font-size="6.3" text-anchor="middle" fill="#8a8a8a" stroke="#8a8a8a" stroke-width="0.18" font-weight="normal">Oct</text>
<text x="504.8" y="413.9" font-size="9.3" text-anchor="middle" fill="#000" stroke="#000" stroke-width="0.18" font-weight="normal" >Time (days)</text>
<text x="410.4" y="214.6" font-size="9.6" text-anchor="middle" fill="#000" stroke="#000" stroke-width="0.18" font-weight="normal" >*</text>
<text x="433.8" y="214.6" font-size="9.6" text-anchor="middle" fill="#000" stroke="#000" stroke-width="0.18" font-weight="normal" >*</text>
<text x="480.1" y="214.6" font-size="9.6" text-anchor="middle" fill="#000" stroke="#000" stroke-width="0.18" font-weight="normal" >*</text>
<text x="538.0" y="214.6" font-size="9.6" text-anchor="middle" fill="#000" stroke="#000" stroke-width="0.18" font-weight="normal" >*</text>
<path d="M409.0,290.6 L432.8,283.3 L477.5,290.4 L534.3,326.3 L584.2,281.9" fill="none" stroke="#2A4DA6" stroke-width="2.1" stroke-linejoin="round"/>
<path d="M413.3,245.9 L436.2,246.3 L482.1,257.9 L538.6,257.4 L586.9,276.2" fill="none" stroke="#A8C526" stroke-width="2.1" stroke-linejoin="round"/>
<path d="M411.4,282.2 L434.7,270.7 L479.2,282.4 L536.5,289.2 L585.5,275.2" fill="none" stroke="#F08C1A" stroke-width="2.1" stroke-linejoin="round"/>
<line x1="409.0" y1="272.5" x2="409.0" y2="309.3" stroke="#2A4DA6" stroke-width="1.6"/>
<line x1="405.4" y1="272.5" x2="412.6" y2="272.5" stroke="#2A4DA6" stroke-width="1.7"/>
<line x1="405.4" y1="309.3" x2="412.6" y2="309.3" stroke="#2A4DA6" stroke-width="1.7"/>
<line x1="432.8" y1="278.0" x2="432.8" y2="288.4" stroke="#2A4DA6" stroke-width="1.6"/>
<line x1="429.2" y1="278.0" x2="436.40000000000003" y2="278.0" stroke="#2A4DA6" stroke-width="1.7"/>
<line x1="429.2" y1="288.4" x2="436.40000000000003" y2="288.4" stroke="#2A4DA6" stroke-width="1.7"/>
<line x1="477.5" y1="281.0" x2="477.5" y2="300.9" stroke="#2A4DA6" stroke-width="1.6"/>
<line x1="473.9" y1="281.0" x2="481.1" y2="281.0" stroke="#2A4DA6" stroke-width="1.7"/>
<line x1="473.9" y1="300.9" x2="481.1" y2="300.9" stroke="#2A4DA6" stroke-width="1.7"/>
<line x1="534.3" y1="264.0" x2="534.3" y2="388.0" stroke="#2A4DA6" stroke-width="1.6"/>
<line x1="530.6999999999999" y1="264.0" x2="537.9" y2="264.0" stroke="#2A4DA6" stroke-width="1.7"/>
<line x1="530.6999999999999" y1="388.0" x2="537.9" y2="388.0" stroke="#2A4DA6" stroke-width="1.7"/>
<line x1="584.2" y1="273.5" x2="584.2" y2="293.7" stroke="#2A4DA6" stroke-width="1.6"/>
<line x1="580.6" y1="273.5" x2="587.8000000000001" y2="273.5" stroke="#2A4DA6" stroke-width="1.7"/>
<line x1="580.6" y1="293.7" x2="587.8000000000001" y2="293.7" stroke="#2A4DA6" stroke-width="1.7"/>
<line x1="413.3" y1="216.5" x2="413.3" y2="275.6" stroke="#A8C526" stroke-width="1.6"/>
<line x1="409.7" y1="216.5" x2="416.90000000000003" y2="216.5" stroke="#A8C526" stroke-width="1.7"/>
<line x1="409.7" y1="275.6" x2="416.90000000000003" y2="275.6" stroke="#A8C526" stroke-width="1.7"/>
<line x1="436.2" y1="231.0" x2="436.2" y2="262.0" stroke="#A8C526" stroke-width="1.6"/>
<line x1="432.59999999999997" y1="231.0" x2="439.8" y2="231.0" stroke="#A8C526" stroke-width="1.7"/>
<line x1="432.59999999999997" y1="262.0" x2="439.8" y2="262.0" stroke="#A8C526" stroke-width="1.7"/>
<line x1="482.1" y1="241.5" x2="482.1" y2="275.4" stroke="#A8C526" stroke-width="1.6"/>
<line x1="478.5" y1="241.5" x2="485.70000000000005" y2="241.5" stroke="#A8C526" stroke-width="1.7"/>
<line x1="478.5" y1="275.4" x2="485.70000000000005" y2="275.4" stroke="#A8C526" stroke-width="1.7"/>
<line x1="538.6" y1="230.7" x2="538.6" y2="284.3" stroke="#A8C526" stroke-width="1.6"/>
<line x1="535.0" y1="230.7" x2="542.2" y2="230.7" stroke="#A8C526" stroke-width="1.7"/>
<line x1="535.0" y1="284.3" x2="542.2" y2="284.3" stroke="#A8C526" stroke-width="1.7"/>
<line x1="586.9" y1="271.8" x2="586.9" y2="283.6" stroke="#A8C526" stroke-width="1.6"/>
<line x1="583.3" y1="271.8" x2="590.5" y2="271.8" stroke="#A8C526" stroke-width="1.7"/>
<line x1="583.3" y1="283.6" x2="590.5" y2="283.6" stroke="#A8C526" stroke-width="1.7"/>
<line x1="411.4" y1="249.5" x2="411.4" y2="314.8" stroke="#F08C1A" stroke-width="1.6"/>
<line x1="407.79999999999995" y1="249.5" x2="415.0" y2="249.5" stroke="#F08C1A" stroke-width="1.7"/>
<line x1="407.79999999999995" y1="314.8" x2="415.0" y2="314.8" stroke="#F08C1A" stroke-width="1.7"/>
<line x1="434.7" y1="240.6" x2="434.7" y2="302.0" stroke="#F08C1A" stroke-width="1.6"/>
<line x1="431.09999999999997" y1="240.6" x2="438.3" y2="240.6" stroke="#F08C1A" stroke-width="1.7"/>
<line x1="431.09999999999997" y1="302.0" x2="438.3" y2="302.0" stroke="#F08C1A" stroke-width="1.7"/>
<line x1="479.2" y1="260.3" x2="479.2" y2="305.0" stroke="#F08C1A" stroke-width="1.6"/>
<line x1="475.59999999999997" y1="260.3" x2="482.8" y2="260.3" stroke="#F08C1A" stroke-width="1.7"/>
<line x1="475.59999999999997" y1="305.0" x2="482.8" y2="305.0" stroke="#F08C1A" stroke-width="1.7"/>
<line x1="536.5" y1="260.3" x2="536.5" y2="318.9" stroke="#F08C1A" stroke-width="1.6"/>
<line x1="532.9" y1="260.3" x2="540.1" y2="260.3" stroke="#F08C1A" stroke-width="1.7"/>
<line x1="532.9" y1="318.9" x2="540.1" y2="318.9" stroke="#F08C1A" stroke-width="1.7"/>
<line x1="585.5" y1="266.7" x2="585.5" y2="283.0" stroke="#F08C1A" stroke-width="1.6"/>
<line x1="581.9" y1="266.7" x2="589.1" y2="266.7" stroke="#F08C1A" stroke-width="1.7"/>
<line x1="581.9" y1="283.0" x2="589.1" y2="283.0" stroke="#F08C1A" stroke-width="1.7"/>
<circle cx="409.0" cy="290.6" r="2.2" fill="#2A4DA6"/>
<circle cx="432.8" cy="283.3" r="2.2" fill="#2A4DA6"/>
<circle cx="477.5" cy="290.4" r="2.2" fill="#2A4DA6"/>
<circle cx="534.3" cy="326.3" r="2.2" fill="#2A4DA6"/>
<circle cx="584.2" cy="281.9" r="2.2" fill="#2A4DA6"/>
<circle cx="413.3" cy="245.9" r="2.2" fill="#A8C526"/>
<circle cx="436.2" cy="246.3" r="2.2" fill="#A8C526"/>
<circle cx="482.1" cy="257.9" r="2.2" fill="#A8C526"/>
<circle cx="538.6" cy="257.4" r="2.2" fill="#A8C526"/>
<circle cx="586.9" cy="276.2" r="2.2" fill="#A8C526"/>
<circle cx="411.4" cy="282.2" r="2.2" fill="#F08C1A"/>
<circle cx="434.7" cy="270.7" r="2.2" fill="#F08C1A"/>
<circle cx="479.2" cy="282.4" r="2.2" fill="#F08C1A"/>
<circle cx="536.5" cy="289.2" r="2.2" fill="#F08C1A"/>
<circle cx="585.5" cy="275.2" r="2.2" fill="#F08C1A"/>
<text x="599.8" y="308.4" font-size="9.2" text-anchor="start" fill="#000" stroke="#000" stroke-width="0.18" font-weight="normal" >Dispersal route</text>
<line x1="600.8" y1="316.9" x2="608.7" y2="316.9" stroke="#2A4DA6" stroke-width="1.6"/>
<circle cx="604.7" cy="316.9" r="2.2" fill="#2A4DA6"/>
<text transform="translate(613.1,318.7) scale(1,1.07)" font-size="7.4" text-anchor="start" fill="#000" stroke="#000" stroke-width="0.18" font-weight="normal">Above surface</text>
<text transform="translate(613.1,326.09999999999997) scale(1,1.07)" font-size="7.4" text-anchor="start" fill="#000" stroke="#000" stroke-width="0.18" font-weight="normal">(Elevated - Closed)</text>
<line x1="600.8" y1="333.4" x2="608.7" y2="333.4" stroke="#A8C526" stroke-width="1.6"/>
<circle cx="604.7" cy="333.4" r="2.2" fill="#A8C526"/>
<text transform="translate(613.1,335.2) scale(1,1.07)" font-size="7.4" text-anchor="start" fill="#000" stroke="#000" stroke-width="0.18" font-weight="normal">Near surface</text>
<text transform="translate(613.1,342.59999999999997) scale(1,1.07)" font-size="7.4" text-anchor="start" fill="#000" stroke="#000" stroke-width="0.18" font-weight="normal">(Open - Overhead)</text>
<line x1="600.8" y1="349.9" x2="608.7" y2="349.9" stroke="#F08C1A" stroke-width="1.6"/>
<circle cx="604.7" cy="349.9" r="2.2" fill="#F08C1A"/>
<text transform="translate(613.1,351.7) scale(1,1.07)" font-size="7.4" text-anchor="start" fill="#000" stroke="#000" stroke-width="0.18" font-weight="normal">Below surface</text>
<text transform="translate(613.1,359.09999999999997) scale(1,1.07)" font-size="7.4" text-anchor="start" fill="#000" stroke="#000" stroke-width="0.18" font-weight="normal">(Overhead - Elevated)</text>
<polygon points="653.90,216.80 680.20,216.80 683.80,223.90 650.40,223.90" fill="#4f7238" stroke="#000" stroke-width="1.1"/>
<polygon points="652.20,221.80 682.20,221.80 682.90,223.30 651.40,223.30" fill="#b9cba6"/>
<path d="M653.6 219.1 Q666.6 217.7 680.6 221.1" stroke="#98b87a" stroke-width="0.9" fill="none"/>
<path d="M652.6 221.5 Q667.6 218.5 681.6 218.7" stroke="#86a866" stroke-width="0.8" fill="none"/>
<polygon points="656.00,206.50 678.00,206.50 683.40,216.80 650.10,216.80" fill="#ebecee" stroke="#000" stroke-width="1.2"/>
<text transform="translate(666.7,231.2) scale(1,1.07)" font-size="7.3" text-anchor="middle" fill="#000" stroke="#000" stroke-width="0.32" font-weight="normal">Bacteria</text>
</svg></body></html>
